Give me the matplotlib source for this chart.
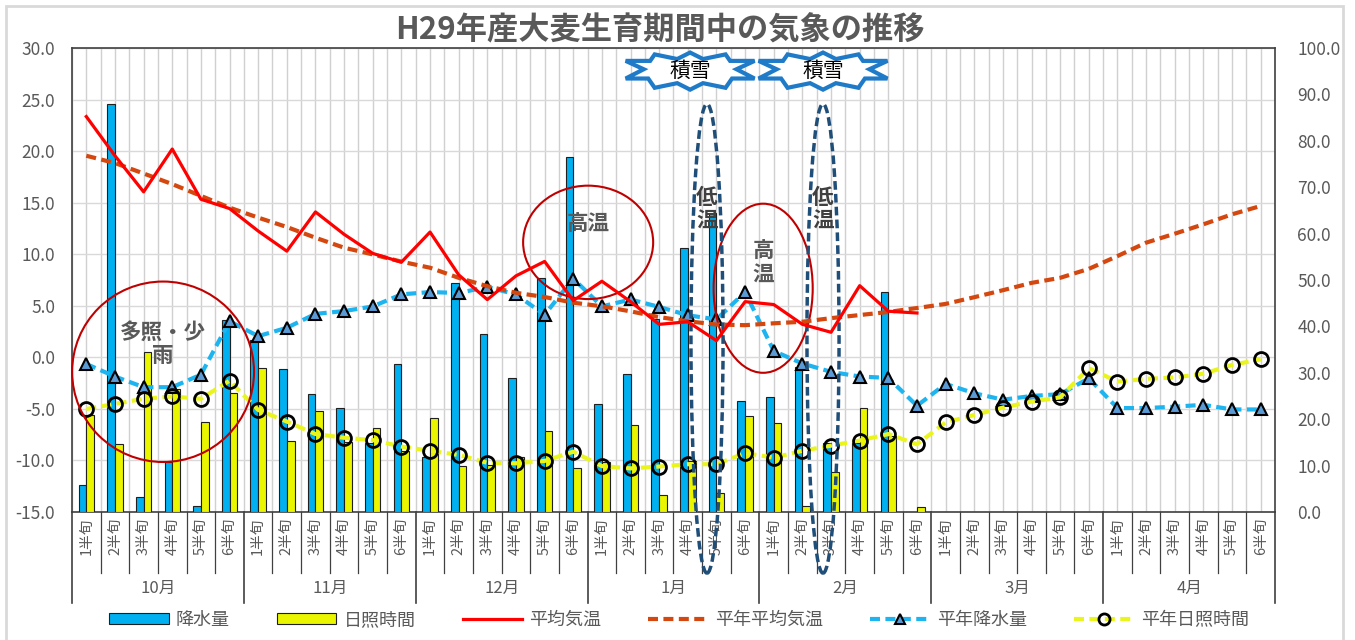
import numpy as np
import matplotlib
matplotlib.use("Agg")
import matplotlib.pyplot as plt
from matplotlib.patches import Ellipse, Polygon, Rectangle
from matplotlib.lines import Line2D
import matplotlib.transforms as mtransforms

plt.rcParams['font.family'] = ['Noto Sans CJK JP', 'DejaVu Sans']

# ---- data ----
months = ['10月', '11月', '12月', '1月', '2月', '3月', '4月']
hanjun = ['1半旬', '2半旬', '3半旬', '4半旬', '5半旬', '6半旬']
cat_labels = [h for m in months for h in hanjun]

# 降水量 (mm, right axis) Oct 1 .. Feb 6
rain = [5.8, 88.0, 3.2, 10.8, 1.2, 41.3,
        37.1, 30.8, 25.4, 22.4, 14.8, 31.9,
        11.9, 49.4, 38.4, 28.8, 50.5, 76.6,
        23.3, 29.7, 41.5, 57.0, 64.5, 24.0,
        24.8, 31.3, 14.8, 14.8, 47.4, np.nan]
# 日照時間 (h, right axis)
sun = [20.9, 14.6, 34.5, 26.5, 19.3, 25.6,
       31.1, 15.3, 21.8, 15.0, 18.0, 13.1,
       20.2, 9.9, 10.1, 11.9, 17.4, 9.4,
       10.8, 18.7, 3.7, 10.9, 4.2, 20.7,
       19.2, 1.3, 8.7, 22.4, 16.4, 1.1]
# 平均気温 (℃, left axis)
temp = [23.35, 19.55, 16.05, 20.2, 15.33, 14.43,
        12.25, 10.3, 14.1, 11.93, 10.08, 9.23,
        12.15, 8.0, 5.6, 7.9, 9.3, 5.5,
        7.38, 5.4, 3.2, 3.45, 1.62, 5.4,
        5.12, 3.2, 2.43, 6.95, 4.47, 4.3]
# 平年平均気温 (℃, left axis)
temp_norm = [19.55, 18.84, 17.83, 16.8, 15.66, 14.52,
             13.55, 12.64, 11.6, 10.63, 9.98, 9.28,
             8.69, 7.71, 6.9, 6.26, 5.85, 5.3,
             4.95, 4.46, 3.9, 3.5, 3.18, 3.12,
             3.3, 3.45, 3.8, 4.1, 4.4, 4.78,
             5.18, 5.83, 6.51, 7.22, 7.71, 8.58,
             9.82, 11.12, 11.99, 12.9, 13.87, 14.68]
# 平年降水量 (mm, right axis)
rain_norm = [31.9, 29.2, 26.9, 26.9, 29.6, 41.1,
             37.9, 39.7, 42.7, 43.3, 44.3, 46.9,
             47.4, 47.2, 48.5, 46.9, 42.5, 50.3,
             44.3, 45.8, 44.2, 42.4, 41.5, 47.4,
             34.7, 32.0, 30.2, 29.2, 28.9, 22.9,
             27.6, 25.6, 24.2, 25.0, 25.4, 28.8,
             22.4, 22.4, 22.7, 23.1, 22.1, 22.1]
# 平年日照時間 (h, right axis)
sun_norm = [22.2, 23.3, 24.4, 24.9, 24.4, 28.3,
            22.0, 19.5, 16.8, 16.0, 15.5, 14.1,
            13.2, 12.3, 10.6, 10.5, 11.0, 13.0,
            9.9, 9.4, 9.8, 10.3, 10.3, 12.7,
            11.7, 13.2, 14.3, 15.4, 16.8, 14.6,
            19.3, 20.9, 22.5, 23.8, 24.7, 31.0,
            28.1, 28.7, 29.0, 29.8, 31.7, 32.9]

grey = '#595959'
x_all = np.arange(len(cat_labels))
x_obs = np.arange(len(rain))

fig = plt.figure(figsize=(13.55, 6.4), dpi=100)
rect = [72 / 1355, 1 - 512 / 640, (1275 - 72) / 1355, (512 - 48) / 640]

# background axis: grid, left scale, category labels
ax = fig.add_axes(rect)
ax.set_xlim(-0.5, len(cat_labels) - 0.5)
ax.set_ylim(-15, 30)
ax.set_yticks(np.arange(-15, 31, 5))
ax.set_yticklabels(['%.1f' % v for v in np.arange(-15, 31, 5)])
ax.set_xticks(x_all)
ax.set_xticklabels(cat_labels, rotation=90, fontsize=10.5, color=grey, va='top')
ax.set_xticks(np.arange(-0.5, len(cat_labels), 1.0), minor=True)
ax.tick_params(axis='x', which='both', length=0, pad=4)
ax.tick_params(axis='y', length=0, pad=12, labelsize=12.5, labelcolor=grey)
ax.grid(axis='x', which='both', color='#D0D0D0', lw=1)
ax.grid(axis='y', color='#D9D9D9', lw=1)
ax.set_axisbelow(True)
for s in ax.spines.values():
    s.set_color('#404040')
    s.set_linewidth(1.2)

# right axis: bars + normal precipitation / sunshine
axr = ax.twinx()
axr.set_ylim(0, 100)
axr.set_yticks(np.arange(0, 101, 10))
axr.set_yticklabels(['%.1f' % v for v in np.arange(0, 101, 10)])
axr.tick_params(axis='y', length=0, pad=16, labelsize=12.5, labelcolor=grey)
axr.set_zorder(1)
for s in axr.spines.values():
    s.set_visible(False)

bw = 0.27
b_rain = axr.bar(x_obs - bw / 2, rain, width=bw, color='#00B0F0',
                 edgecolor='#202020', linewidth=0.8, label='降水量')
b_sun = axr.bar(x_obs + bw / 2, sun, width=bw, color='#EAF500',
                edgecolor='#202020', linewidth=0.8, label='日照時間')
l_rn, = axr.plot(x_all, rain_norm, color='#1EB4F0', lw=3, dashes=(2.4, 1.3),
                 marker='^', markersize=9, markerfacecolor='#5B9BD5',
                 markeredgecolor='black', markeredgewidth=1.5, label='平年降水量')
l_sn, = axr.plot(x_all, sun_norm, color='#EAF51E', lw=3, dashes=(2.4, 1.3),
                 marker='o', markersize=10, markerfacecolor='none',
                 markeredgecolor='black', markeredgewidth=2, label='平年日照時間')

# top axis: temperatures (left scale) + annotations
axt = fig.add_axes(rect, sharex=ax, sharey=ax)
axt.set_zorder(2)
axt.patch.set_visible(False)
axt.axis('off')
l_tn, = axt.plot(x_all, temp_norm, color='#D4480F', lw=3, dashes=(2.4, 1.3),
                 label='平年平均気温')
l_t, = axt.plot(x_obs, temp, color='#FF0000', lw=2.3, label='平均気温')

# category / month separators below the axis
trans = mtransforms.blended_transform_factory(ax.transData, ax.transAxes)
for i in range(len(cat_labels) + 1):
    xb = i - 0.5
    bottom = -0.196 if i % 6 == 0 else -0.131
    ax.add_line(Line2D([xb, xb], [0, bottom], transform=trans, color='#404040',
                       lw=1.2 if i % 6 == 0 else 0.9, clip_on=False))
for m, name in enumerate(months):
    ax.text(m * 6 + 2.5, -0.165, name, transform=trans, ha='center', va='center',
            fontsize=12, color=grey)

# annotations
def ellipse(cx, cy, w, h, **kw):
    axt.add_patch(Ellipse((cx, cy), w, h, fill=False, clip_on=False, **kw))

ellipse(2.68, -1.4, 6.35, 17.5, edgecolor='#C00000', lw=1.5)
axt.text(2.68, 1.3, '多照・少\n雨', ha='center', va='center', fontsize=15.5,
         fontweight='bold', color=grey, linespacing=1.15)
ellipse(17.52, 11.15, 4.54, 11.0, edgecolor='#C00000', lw=1.5)
axt.text(17.52, 12.9, '高温', ha='center', va='center', fontsize=15.5,
         fontweight='bold', color=grey)
ellipse(23.63, 6.7, 3.46, 16.4, edgecolor='#C00000', lw=1.5)
axt.text(23.63, 9.1, '高\n温', ha='center', va='center', fontsize=15.5,
         fontweight='bold', color=grey, linespacing=1.15)

for cx in (21.67, 25.72):
    ellipse(cx, 1.82, 1.12, 45.5, edgecolor='#1F4E79', lw=2.5, linestyle=(0, (2.5, 1.2)))
    axt.text(cx, 14.35, '低\n温', ha='center', va='center', fontsize=15.5,
             fontweight='bold', color='#404040', linespacing=1.15)

badge = np.array([(-1.0, 0.55), (-0.62, 0.55), (-0.55, 0.9), (-0.2, 0.65), (0.0, 1.0),
                  (0.2, 0.65), (0.55, 0.9), (0.62, 0.55), (1.0, 0.55), (0.72, 0.1),
                  (1.0, -0.4), (0.65, -0.4), (0.55, -0.9), (0.2, -0.65), (0.0, -1.0),
                  (-0.2, -0.65), (-0.55, -0.9), (-0.65, -0.4), (-1.0, -0.4), (-0.72, 0.1)])
for cx in (21.08, 25.72):
    pts = np.column_stack([cx + badge[:, 0] * 4.5 / 2, 27.76 + badge[:, 1] * 3.6 / 2])
    axt.add_patch(Polygon(pts, closed=True, facecolor='white', edgecolor='#1F7BC8',
                          lw=3, clip_on=False))
    axt.text(cx, 27.76, '積雪', ha='center', va='center', fontsize=15, color='black')

fig.text(0.487, 1 - 30 / 640, 'H29年産大麦生育期間中の気象の推移', ha='center',
         va='center', fontsize=22.5, fontweight='bold', color=grey)

handles = [b_rain, b_sun, l_t, l_tn, l_rn, l_sn]
fig.legend(handles, [h.get_label() for h in handles], loc='center',
           bbox_to_anchor=(0.501, 1 - 620 / 640), ncol=6, frameon=False,
           fontsize=13, handlelength=3.3, handleheight=0.6, columnspacing=2.6,
           labelcolor=grey, handletextpad=0.4, markerscale=0.8)

fig.add_artist(Rectangle((6 / 1355, -0.05), (1343 - 6) / 1355, 1.05 - 6 / 640,
                         transform=fig.transFigure, fill=False, edgecolor='#D9D9D9', lw=2))

fig.savefig('out.png', dpi=100)
